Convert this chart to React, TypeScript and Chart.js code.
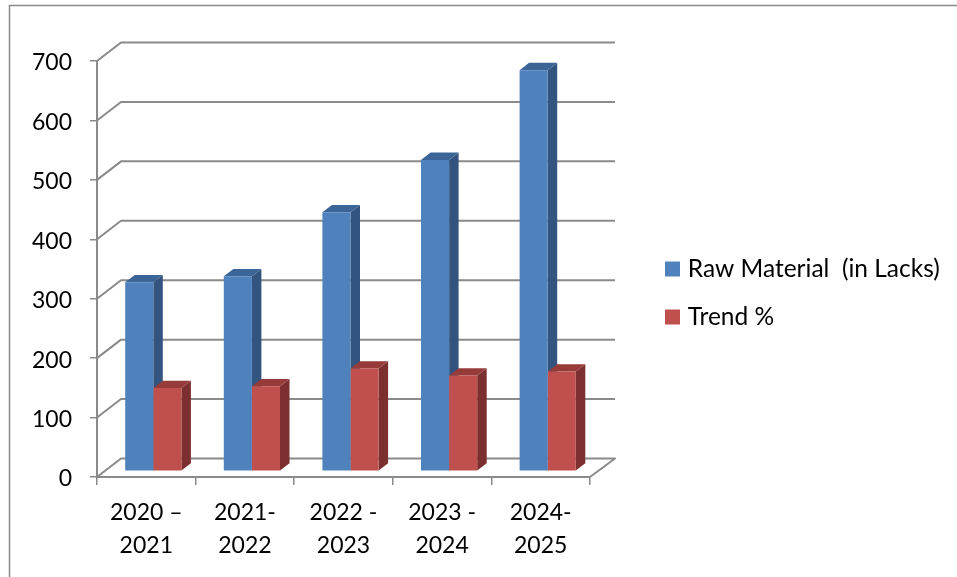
import { useEffect, useRef } from "react";
import { Chart, registerables } from "chart.js";

Chart.register(...registerables);

// Financial years and the two measured series
const categories: string[][] = [
  ["2020 –", "2021"],
  ["2021-", "2022"],
  ["2022 -", "2023"],
  ["2023 -", "2024"],
  ["2024-", "2025"],
];
const rawMaterial = [318, 328, 436, 524, 675];
const trendPercent = [140, 143, 173, 161, 168];
const yTicks = [0, 100, 200, 300, 400, 500, 600, 700];

const FONT = "Lato, Carlito, sans-serif";
const LINE = "#8a8a8a";
const BLUE = { front: "#4f81bd", side: "#32547e", top: "#3b6597" };
const RED = { front: "#c0504d", side: "#7b2f2e", top: "#963b39" };

// Oblique projection of the chart box: wall depth, bar depth, and how far
// the bars stand from the front edge of the floor.
const WALL = { dx: 24, dy: -18.5 };
const BAR_DEPTH = { dx: 9.5, dy: -7.3 };
const BAR_SHIFT = { dx: 7, dy: -5.7 };
const WALL_RIGHT = 615;

const framePlugin = {
  id: "frame",
  beforeDraw(chart: any) {
    const { ctx, width, height } = chart;
    ctx.save();
    ctx.strokeStyle = LINE;
    ctx.lineWidth = 1.5;
    ctx.beginPath();
    ctx.moveTo(9.5, height);
    ctx.lineTo(9.5, 5.5);
    ctx.lineTo(width, 5.5);
    ctx.stroke();
    ctx.restore();
  },
};

// Places the legend box beside the plot at a fixed spot.
const legendPlacement = {
  id: "legendPlacement",
  afterLayout(chart: any) {
    const legend = chart.legend;
    legend.left = 646;
    legend.right = 957;
    legend.width = 311;
    legend.top = 233.25;
    legend.bottom = 400;
  },
};

const depthPlugin = {
  id: "depth",
  beforeDatasetsDraw(chart: any) {
    const { ctx } = chart;
    const y = chart.scales.y;
    const x = chart.scales.x;

    // Back wall gridlines, each joined to its tick on the front axis
    ctx.save();
    ctx.strokeStyle = LINE;
    ctx.lineWidth = 2;
    ctx.lineJoin = "round";
    for (const v of yTicks) {
      const py = y.getPixelForValue(v);
      ctx.beginPath();
      ctx.moveTo(x.left, py);
      ctx.lineTo(x.left + WALL.dx, py + WALL.dy);
      ctx.lineTo(WALL_RIGHT, py + WALL.dy);
      if (v === 0) {
        ctx.lineTo(x.right, py);
      }
      ctx.stroke();
    }
    ctx.restore();

    // Side and top faces of each bar, blue first so red overlaps it
    ctx.save();
    ctx.translate(BAR_SHIFT.dx, BAR_SHIFT.dy);
    [BLUE, RED].forEach((shade, di) => {
      for (const el of chart.getDatasetMeta(di).data) {
        const left = el.x - el.width / 2;
        const right = el.x + el.width / 2;
        const { dx, dy } = BAR_DEPTH;
        ctx.fillStyle = shade.side;
        ctx.beginPath();
        ctx.moveTo(right, el.base);
        ctx.lineTo(right + dx, el.base + dy);
        ctx.lineTo(right + dx, el.y + dy);
        ctx.lineTo(right, el.y);
        ctx.closePath();
        ctx.fill();
        ctx.fillStyle = shade.top;
        ctx.beginPath();
        ctx.moveTo(left, el.y);
        ctx.lineTo(left + dx, el.y + dy);
        ctx.lineTo(right + dx, el.y + dy);
        ctx.lineTo(right, el.y);
        ctx.closePath();
        ctx.fill();
      }
    });
    ctx.restore();

    // The front faces are drawn by the bar controller inside this offset
    ctx.save();
    ctx.translate(BAR_SHIFT.dx, BAR_SHIFT.dy);
  },
  afterDatasetsDraw(chart: any) {
    chart.ctx.restore();
  },
};

export default function App() {
  const canvasRef = useRef<HTMLCanvasElement | null>(null);

  useEffect(() => {
    const canvas = canvasRef.current;
    if (!canvas) return;
    const chart = new Chart(canvas, {
      type: "bar",
      data: {
        labels: categories,
        datasets: [
          { label: "Raw Material  (in Lacks)", data: rawMaterial, backgroundColor: BLUE.front },
          { label: "Trend %", data: trendPercent, backgroundColor: RED.front },
        ],
      },
      plugins: [framePlugin, legendPlacement, depthPlugin],
      options: {
        responsive: false,
        animation: false,
        layout: { padding: { left: 0, top: 61, bottom: 0, right: 267 } },
        datasets: { bar: { categoryPercentage: 0.57, barPercentage: 1 } },
        plugins: {
          title: { display: false },
          tooltip: { enabled: false },
          legend: {
            position: "right",
            align: "start",
            maxWidth: 100,
            labels: {
              font: { family: FONT, size: 24.5 },
              color: "#000",
              padding: 23.5,
              boxWidth: 6,
              boxHeight: 6,
              // A thick outline in the fill colour widens the swatch without
              // widening the gap before the legend text.
              generateLabels: (c: any) =>
                c.data.datasets.map((d: any, i: number) => ({
                  text: d.label,
                  fillStyle: d.backgroundColor,
                  strokeStyle: d.backgroundColor,
                  lineWidth: 9,
                  datasetIndex: i,
                  hidden: false,
                })),
            },
          },
        },
        scales: {
          x: {
            afterFit: (s: any) => {
              s.height = 100;
            },
            offset: true,
            border: { display: true, color: LINE, width: 2 },
            grid: {
              display: true,
              drawOnChartArea: false,
              color: LINE,
              lineWidth: 1.5,
              tickLength: 8,
              offset: true,
            },
            ticks: {
              color: "#000",
              font: { family: FONT, size: 23, lineHeight: 33 / 23 },
              maxRotation: 0,
              autoSkip: false,
              padding: 11,
            },
          },
          y: {
            min: 0,
            max: 700,
            afterFit: (s: any) => {
              s.width = 97;
            },
            afterBuildTicks: (s: any) => {
              s.ticks = yTicks.map((value) => ({ value }));
            },
            border: { display: true, color: LINE, width: 2 },
            grid: {
              display: true,
              drawOnChartArea: false,
              color: LINE,
              lineWidth: 1.5,
              tickLength: 7,
            },
            ticks: {
              color: "#000",
              font: { family: FONT, size: 23 },
              padding: 18,
              labelOffset: 2,
            },
          },
        },
      },
    });
    return () => chart.destroy();
  }, []);

  return (
    <div style={{ position: "absolute", left: 0, top: 0, width: 957, height: 577, background: "#fff" }}>
      <canvas ref={canvasRef} width={957} height={577} style={{ display: "block" }} />
    </div>
  );
}
